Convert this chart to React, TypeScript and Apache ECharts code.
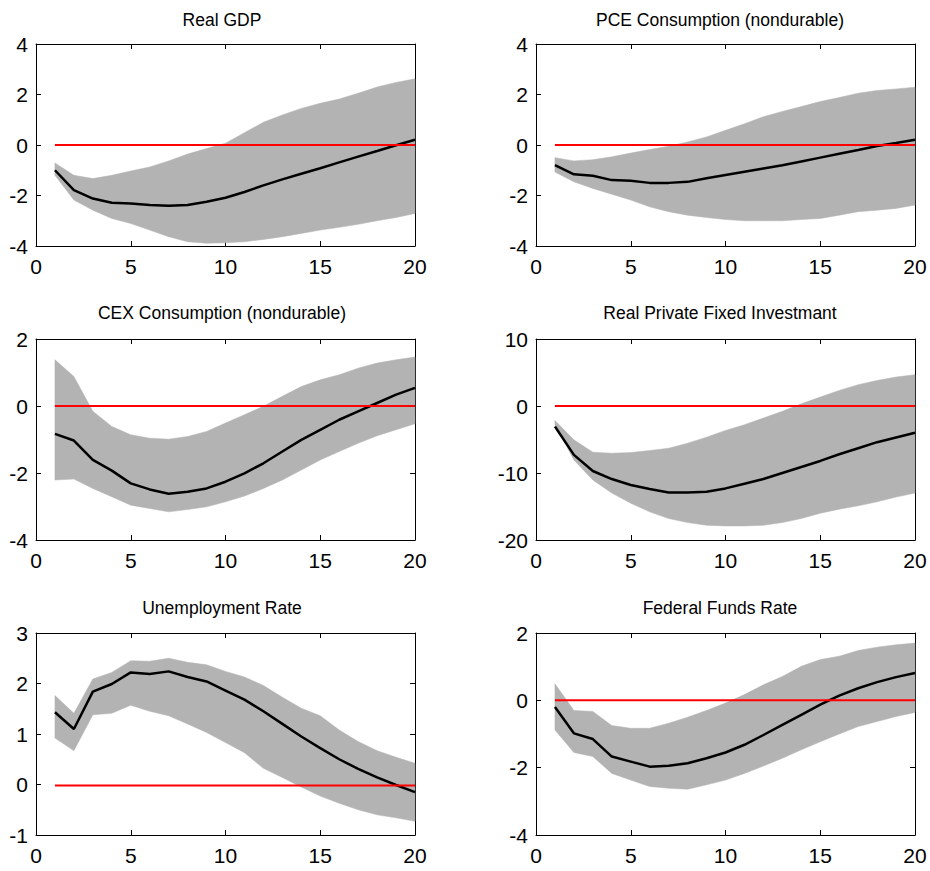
import React, { useEffect, useRef } from "react";
import * as echarts from "echarts";

// Horizon (quarters)
const HORIZON = [1, 2, 3, 4, 5, 6, 7, 8, 9, 10, 11, 12, 13, 14, 15, 16, 17, 18, 19, 20];
const X_TICKS = { min: 0, max: 20, interval: 5 };

const TITLES = [
  "Real GDP",
  "PCE Consumption (nondurable)",
  "CEX Consumption (nondurable)",
  "Real Private Fixed Investmant",
  "Unemployment Rate",
  "Federal Funds Rate",
];

// Real GDP
const GDP_MEAN = [-1.0, -1.79, -2.12, -2.29, -2.32, -2.38, -2.41, -2.38, -2.25, -2.09, -1.86, -1.6, -1.36, -1.14, -0.92, -0.69, -0.46, -0.24, -0.01, 0.21];
const GDP_HI = [-0.71, -1.2, -1.33, -1.2, -1.03, -0.87, -0.63, -0.36, -0.14, 0.07, 0.49, 0.9, 1.19, 1.45, 1.65, 1.82, 2.05, 2.3, 2.48, 2.62];
const GDP_LO = [-1.2, -2.18, -2.58, -2.91, -3.11, -3.37, -3.63, -3.83, -3.89, -3.87, -3.83, -3.74, -3.63, -3.5, -3.37, -3.26, -3.14, -3.0, -2.87, -2.71];

// PCE consumption (nondurable)
const PCE_MEAN = [-0.8, -1.16, -1.22, -1.39, -1.42, -1.5, -1.5, -1.46, -1.32, -1.19, -1.06, -0.93, -0.8, -0.65, -0.5, -0.35, -0.2, -0.04, 0.08, 0.21];
const PCE_HI = [-0.5, -0.63, -0.58, -0.47, -0.32, -0.18, -0.05, 0.12, 0.32, 0.58, 0.84, 1.12, 1.33, 1.52, 1.72, 1.88, 2.05, 2.16, 2.22, 2.29];
const PCE_LO = [-1.07, -1.46, -1.72, -1.95, -2.18, -2.45, -2.64, -2.78, -2.87, -2.95, -3.0, -3.0, -3.0, -2.95, -2.91, -2.78, -2.64, -2.58, -2.51, -2.38];

// CEX consumption (nondurable)
const CEX_MEAN = [-0.83, -1.03, -1.61, -1.93, -2.31, -2.49, -2.62, -2.56, -2.46, -2.26, -2.01, -1.71, -1.36, -1.01, -0.71, -0.41, -0.16, 0.09, 0.34, 0.54];
const CEX_HI = [1.38, 0.88, -0.16, -0.61, -0.86, -0.96, -0.99, -0.91, -0.76, -0.51, -0.26, -0.01, 0.29, 0.58, 0.78, 0.93, 1.13, 1.28, 1.38, 1.46];
const CEX_LO = [-2.21, -2.18, -2.46, -2.71, -2.96, -3.06, -3.16, -3.09, -3.01, -2.86, -2.69, -2.46, -2.21, -1.91, -1.61, -1.36, -1.11, -0.89, -0.71, -0.53];

// Real private fixed investment
const INV_MEAN = [-3.06, -7.3, -9.7, -10.9, -11.8, -12.4, -12.9, -12.9, -12.8, -12.3, -11.6, -10.9, -10.0, -9.1, -8.2, -7.2, -6.3, -5.4, -4.7, -4.0];
const INV_HI = [-2.16, -5.05, -6.9, -7.05, -6.95, -6.65, -6.3, -5.55, -4.65, -3.65, -2.8, -1.8, -0.8, 0.33, 1.33, 2.33, 3.17, 3.82, 4.32, 4.67];
const INV_LO = [-2.8, -8.05, -11.05, -13.0, -14.5, -15.8, -16.8, -17.4, -17.8, -17.9, -17.9, -17.8, -17.4, -16.8, -16.0, -15.4, -14.9, -14.3, -13.6, -13.0];

// Unemployment rate
const UNR_MEAN = [1.43, 1.1, 1.84, 1.99, 2.22, 2.19, 2.24, 2.13, 2.04, 1.86, 1.68, 1.45, 1.2, 0.95, 0.72, 0.5, 0.31, 0.14, -0.01, -0.15];
const UNR_HI = [1.76, 1.41, 2.09, 2.22, 2.45, 2.44, 2.5, 2.42, 2.37, 2.24, 2.13, 1.96, 1.73, 1.51, 1.36, 1.08, 0.85, 0.67, 0.54, 0.42];
const UNR_LO = [0.92, 0.67, 1.38, 1.41, 1.57, 1.45, 1.36, 1.2, 1.03, 0.83, 0.63, 0.32, 0.14, -0.05, -0.23, -0.37, -0.5, -0.6, -0.66, -0.73];

// Federal funds rate
const FFR_MEAN = [-0.2, -0.98, -1.15, -1.67, -1.82, -1.97, -1.94, -1.87, -1.72, -1.55, -1.32, -1.03, -0.73, -0.43, -0.13, 0.14, 0.36, 0.54, 0.69, 0.81];
const FFR_HI = [0.49, -0.3, -0.33, -0.75, -0.83, -0.83, -0.68, -0.5, -0.3, -0.08, 0.17, 0.46, 0.71, 1.01, 1.21, 1.31, 1.48, 1.58, 1.65, 1.7];
const FFR_LO = [-0.88, -1.55, -1.67, -2.17, -2.37, -2.56, -2.61, -2.64, -2.51, -2.37, -2.17, -1.95, -1.72, -1.47, -1.23, -1.0, -0.78, -0.63, -0.48, -0.36];

// Y axis ranges (min, max, interval) and reference line level per panel
const Y_MIN = [-4, -4, -4, -20, -1, -4];
const Y_MAX = [4, 4, 2, 10, 3, 2];
const Y_STEP = [2, 2, 2, 10, 1, 2];
const ZERO_LEVEL = [0, 0, 0, 0, -0.02, 0];

const MEANS = [GDP_MEAN, PCE_MEAN, CEX_MEAN, INV_MEAN, UNR_MEAN, FFR_MEAN];
const HIS = [GDP_HI, PCE_HI, CEX_HI, INV_HI, UNR_HI, FFR_HI];
const LOS = [GDP_LO, PCE_LO, CEX_LO, INV_LO, UNR_LO, FFR_LO];

const FONT = "'Liberation Sans', Arial, Helvetica, sans-serif";
const BAND_COLOR = "#b3b3b3";

// layout
const COL_LEFT = [36, 536];
const COL_WIDTH = 379;
const ROW_TOP = [44, 339, 633];
const ROW_HEIGHT = [202, 201, 202];
const TITLE_X = [222, 720];
const TITLE_Y = [20, 313, 608];

export default function App() {
  const ref = useRef<HTMLDivElement>(null);

  useEffect(() => {
    if (!ref.current) return;
    const chart = echarts.init(ref.current, null, { renderer: "svg" });

    const grids: any[] = [];
    const xAxes: any[] = [];
    const yAxes: any[] = [];
    const series: any[] = [];
    const graphics: any[] = [];

    for (let p = 0; p < 6; p++) {
      const col = p % 2;
      const row = Math.floor(p / 2);
      grids.push({
        left: COL_LEFT[col],
        top: ROW_TOP[row],
        width: COL_WIDTH,
        height: ROW_HEIGHT[row],
        containLabel: false,
      });
      const axisLine = { show: true, onZero: false, lineStyle: { color: "#000", width: 1 } };
      const tick = { show: true, inside: true, length: 5, lineStyle: { color: "#000", width: 1 } };
      xAxes.push({
        type: "value",
        gridIndex: p,
        position: "bottom",
        min: X_TICKS.min,
        max: X_TICKS.max,
        interval: X_TICKS.interval,
        axisLine,
        axisTick: tick,
        splitLine: { show: false },
        axisLabel: { color: "#000", fontSize: 21, fontFamily: FONT, margin: 10 },
      });
      xAxes.push({
        type: "value",
        gridIndex: p,
        position: "top",
        min: X_TICKS.min,
        max: X_TICKS.max,
        interval: X_TICKS.interval,
        axisLine,
        axisTick: tick,
        splitLine: { show: false },
        axisLabel: { show: false },
      });
      yAxes.push({
        type: "value",
        gridIndex: p,
        position: "left",
        min: Y_MIN[p],
        max: Y_MAX[p],
        interval: Y_STEP[p],
        axisLine,
        axisTick: tick,
        splitLine: { show: false },
        axisLabel: { color: "#000", fontSize: 21, fontFamily: FONT, margin: 8 },
      });
      yAxes.push({
        type: "value",
        gridIndex: p,
        position: "right",
        min: Y_MIN[p],
        max: Y_MAX[p],
        interval: Y_STEP[p],
        axisLine,
        axisTick: tick,
        splitLine: { show: false },
        axisLabel: { show: false },
      });

      const bandData = HORIZON.map((h, i) => [h, LOS[p][i], HIS[p][i]]);
      series.push({
        type: "custom",
        xAxisIndex: p * 2,
        yAxisIndex: p * 2,
        data: bandData,
        encode: { x: 0, y: [1, 2] },
        silent: true,
        z: 1,
        renderItem: (params: any, api: any) => {
          if (params.dataIndex !== 0) return null;
          const n = params.dataInsideLength;
          const pts: number[][] = [];
          for (let i = 0; i < n; i++) pts.push(api.coord([api.value(0, i), api.value(2, i)]));
          for (let i = n - 1; i >= 0; i--) pts.push(api.coord([api.value(0, i), api.value(1, i)]));
          return {
            type: "polygon",
            shape: { points: pts },
            style: { fill: BAND_COLOR, stroke: BAND_COLOR, lineWidth: 0.5 },
          };
        },
      });
      series.push({
        type: "line",
        xAxisIndex: p * 2,
        yAxisIndex: p * 2,
        data: HORIZON.map((h, i) => [h, MEANS[p][i]]),
        showSymbol: false,
        symbol: "none",
        z: 3,
        lineStyle: { color: "#000", width: 2.5 },
        silent: true,
      });
      series.push({
        type: "line",
        xAxisIndex: p * 2,
        yAxisIndex: p * 2,
        data: [
          [HORIZON[0], ZERO_LEVEL[p]],
          [HORIZON[HORIZON.length - 1], ZERO_LEVEL[p]],
        ],
        showSymbol: false,
        symbol: "none",
        z: 4,
        lineStyle: { color: "#ff0000", width: 2 },
        silent: true,
      });

      graphics.push({
        type: "text",
        x: TITLE_X[col],
        y: TITLE_Y[row],
        style: {
          text: TITLES[p],
          fill: "#000",
          font: `17.5px ${FONT}`,
          textAlign: "center",
          textVerticalAlign: "middle",
        },
      });
    }

    chart.setOption({
      animation: false,
      backgroundColor: "#ffffff",
      grid: grids,
      xAxis: xAxes,
      yAxis: yAxes,
      series,
      graphic: graphics,
    });

    return () => {
      chart.dispose();
    };
  }, []);

  return (
    <div
      ref={ref}
      style={{ position: "absolute", left: 0, top: 0, width: 930, height: 871 }}
    />
  );
}
